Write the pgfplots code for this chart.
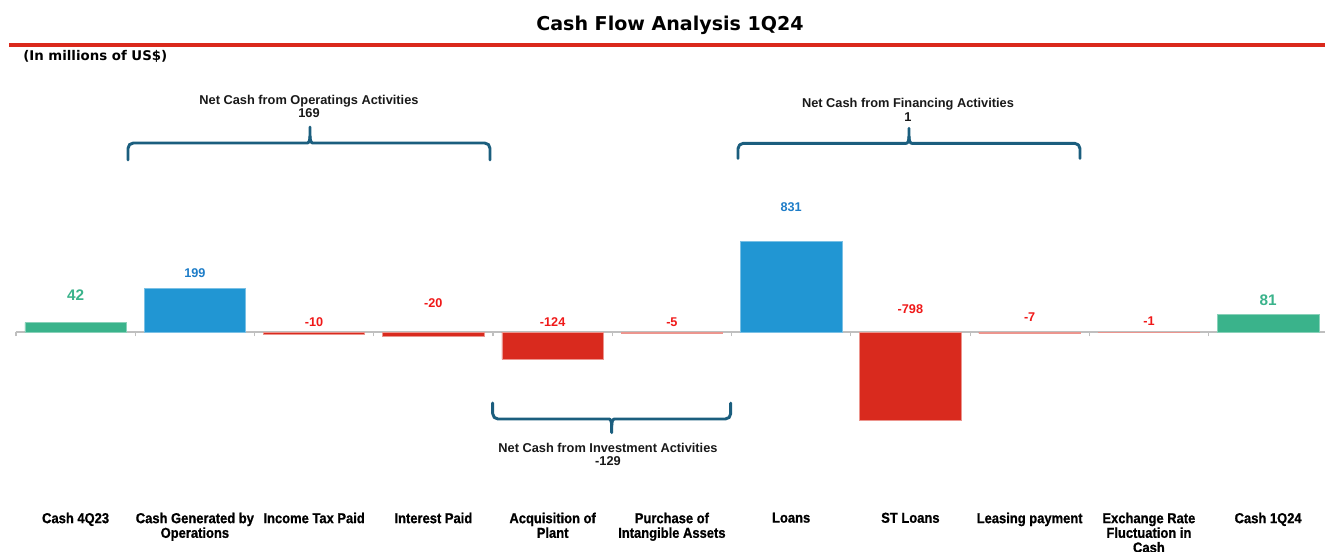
\documentclass[border=0pt]{standalone}
\usepackage{pgfplots}
\pgfplotsset{compat=1.18}
\usepackage{pgfplotstable}
\usepackage{fontspec}
\setmainfont{Liberation Sans}
\newfontfamily\titlefont{DejaVu Sans}
\newfontfamily\narrowfont{Liberation Sans}[FakeStretch=0.9, BoldFeatures={FakeBold=0.8}]
\definecolor{cgreen}{HTML}{3AB38B}
\definecolor{cblue}{HTML}{2196D3}
\definecolor{cred}{HTML}{D92A1E}
\definecolor{lblue}{HTML}{1E7DC8}
\definecolor{lred}{HTML}{F01818}
\definecolor{bracecol}{HTML}{1B5E7E}
\definecolor{axgray}{HTML}{BFBFBF}
\definecolor{tred}{HTML}{DA291C}

% bars: x position, value (millions of US$)
\pgfplotstableread{
x val
0 42
10 81
}\greenbars
\pgfplotstableread{
x val
1 199
6 831
}\bluebars
\pgfplotstableread{
x val
2 -10
3 -20
4 -124
5 -5
7 -798
8 -7
9 -1
}\redbars
% label placement: x, vertical position of the label, text
\pgfplotstableread{
x ly lab
0 168 42
10 145 81
}\greenlabs
\pgfplotstableread{
x ly lab
1 407 199
6 1296.5 831
}\bluelabs
\pgfplotstableread{
x ly lab
2 44 -10
3 131.5 -20
4 45 -124
5 45 -5
7 103 -798
8 66.7 -7
9 51 -1
}\redlabs

\begin{document}
\begin{tikzpicture}
\useasboundingbox (0,0) rectangle (993.75pt,-413.25pt);
\fill[white] (0,0) rectangle (993.75pt,-413.25pt);
\begin{axis}[
  at={(12pt,-298.61pt)}, anchor=south west,
  scale only axis, width=982.05pt, height=148.84pt,
  xmin=-0.5, xmax=10.48, ymin=-500, ymax=1400,
  y coord trafo/.code={\pgfmathparse{(#1>200) ? (200+(#1-200)/3) : ((#1<-200) ? (-200+(#1+200)/3) : #1)}},
  y coord inv trafo/.code={\pgfmathparse{(#1>200) ? (200+(#1-200)*3) : ((#1<-200) ? (-200+(#1+200)*3) : #1)}},
  axis x line=middle, axis y line=none,
  x axis line style={axgray, line width=1.1pt, -},
  ytick=\empty,
  xtick={0,...,10},
  xticklabels={Cash 4Q23, {Cash Generated by\\Operations}, Income Tax Paid, Interest Paid, {Acquisition of\\Plant}, {Purchase of\\Intangible Assets}, Loans, ST Loans, Leasing payment, {Exchange Rate\\Fluctuation in\\Cash}, Cash 1Q24},
  major tick length=0pt,
  minor xtick={-0.5,0.5,...,10.5},
  minor tick length=3pt,
  tick align=outside,
  minor tick style={axgray, line width=0.8pt},
  xticklabel style={font=\narrowfont\bfseries\fontsize{10.8}{11}\selectfont, align=center, anchor=north, yshift=-132pt, text=black},
  clip=false,
]
\addplot[ybar, bar width=0.85, bar shift=0pt, fill=cgreen, draw=cgreen!60!white, line width=0.5pt] table[x=x, y=val] {\greenbars};
\addplot[ybar, bar width=0.85, bar shift=0pt, fill=cblue, draw=cblue!60!white, line width=0.5pt] table[x=x, y=val] {\bluebars};
\addplot[ybar, bar width=0.85, bar shift=0pt, fill=cred, draw=cred!50!white, line width=0.5pt] table[x=x, y=val] {\redbars};

\addplot[draw=none, mark=none, nodes near coords, point meta=explicit symbolic,
  every node near coord/.style={anchor=center, font=\bfseries\fontsize{11.5}{12}\selectfont, text=cgreen}]
  table[x=x, y=ly, meta=lab] {\greenlabs};
\addplot[draw=none, mark=none, nodes near coords, point meta=explicit symbolic,
  every node near coord/.style={anchor=center, font=\bfseries\fontsize{9.5}{10}\selectfont, text=lblue}]
  table[x=x, y=ly, meta=lab] {\bluelabs};
\addplot[draw=none, mark=none, nodes near coords, point meta=explicit symbolic,
  every node near coord/.style={anchor=center, font=\bfseries\fontsize{9.5}{10}\selectfont, text=lred}]
  table[x=x, y=ly, meta=lab] {\redlabs};
\end{axis}

\begin{scope}[x=0.75pt,y=-0.75pt]
\node[font=\titlefont\bfseries\fontsize{14.3}{16}\selectfont, text=black] at (670,25) {Cash Flow Analysis 1Q24};
\draw[tred, line width=2.5pt] (9,45) -- (1325,45);
\node[anchor=west, inner sep=0pt, font=\titlefont\bfseries\fontsize{10}{12}\selectfont, text=black] at (23,56) {(In millions of US\$)};

\tikzset{bracestyle/.style={draw=bracecol, line width=2.2pt, line cap=round, line join=round}}
% operating brace
\draw[bracestyle] (128,160) [rounded corners=4pt] -- (128,143) -- (302,143) [sharp corners] .. controls (309,143) and (310,140) .. (310,136) -- (310,127);
\draw[bracestyle] (490,160) [rounded corners=4pt] -- (490,143) -- (318,143) [sharp corners] .. controls (311,143) and (310,140) .. (310,136);
\node[align=center, font=\bfseries\fontsize{9.6}{10.2}\selectfont, text=black!90] at (309,106.5) {Net Cash from Operatings Activities\\169};
% financing brace
\draw[bracestyle] (738,158.5) [rounded corners=4pt] -- (738,143.3) -- (901,143.3) [sharp corners] .. controls (908,143.3) and (909,140.3) .. (909,136.3) -- (909,128.3);
\draw[bracestyle] (1080,158.5) [rounded corners=4pt] -- (1080,143.3) -- (917,143.3) [sharp corners] .. controls (910,143.3) and (909,140.3) .. (909,136.3);
\node[align=center, font=\bfseries\fontsize{9.6}{10.8}\selectfont, text=black!90] at (908,110) {Net Cash from Financing Activities\\1};
% investment brace (inverted)
\draw[bracestyle] (492.7,403) [rounded corners=4pt] -- (492.7,419) -- (603.7,419) [sharp corners] .. controls (610.7,419) and (611.7,422) .. (611.7,426) -- (611.7,432.7);
\draw[bracestyle] (730.7,403) [rounded corners=4pt] -- (730.7,419) -- (619.7,419) [sharp corners] .. controls (612.7,419) and (611.7,422) .. (611.7,426);
\node[align=center, font=\bfseries\fontsize{9.6}{9.8}\selectfont, text=black!90] at (608,454.3) {Net Cash from Investment Activities\\-129};
\end{scope}
\end{tikzpicture}
\end{document}
